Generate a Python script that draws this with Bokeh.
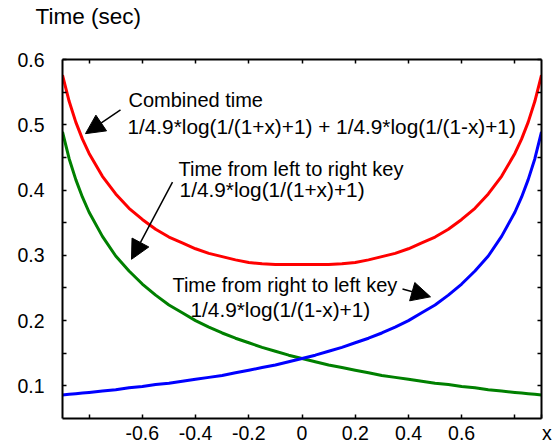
from bokeh.plotting import figure
from bokeh.models import Range1d, LinearAxis, FixedTicker, Label, Arrow, NormalHead
from bokeh.embed import file_html
from bokeh.resources import INLINE

# ---- data ----
x_vals = [-0.9, -0.875, -0.85, -0.825, -0.8, -0.75, -0.7, -0.65, -0.6, -0.55, -0.5,
          -0.45, -0.4, -0.35, -0.3, -0.25, -0.2, -0.15, -0.1, -0.05, 0.0,
          0.05, 0.1, 0.15, 0.2, 0.25, 0.3, 0.35, 0.4, 0.45, 0.5,
          0.55, 0.6, 0.65, 0.7, 0.75, 0.8, 0.825, 0.85, 0.875, 0.9]

left_to_right = [0.489, 0.448, 0.416, 0.389, 0.366, 0.329, 0.299, 0.276, 0.256, 0.239, 0.224,
                 0.212, 0.200, 0.190, 0.181, 0.173, 0.166, 0.159, 0.153, 0.147, 0.142,
                 0.137, 0.132, 0.128, 0.124, 0.120, 0.116, 0.113, 0.110, 0.107, 0.104,
                 0.102, 0.099, 0.097, 0.094, 0.092, 0.090, 0.089, 0.088, 0.087, 0.086]

right_to_left = [0.086, 0.087, 0.088, 0.089, 0.090, 0.092, 0.094, 0.097, 0.099, 0.102, 0.104,
                 0.107, 0.110, 0.113, 0.116, 0.120, 0.124, 0.128, 0.132, 0.137, 0.142,
                 0.147, 0.153, 0.159, 0.166, 0.173, 0.181, 0.190, 0.200, 0.212, 0.224,
                 0.239, 0.256, 0.276, 0.299, 0.329, 0.366, 0.389, 0.416, 0.448, 0.489]

combined = [0.576, 0.536, 0.504, 0.478, 0.456, 0.421, 0.394, 0.372, 0.355, 0.340, 0.328,
            0.319, 0.310, 0.303, 0.298, 0.293, 0.289, 0.287, 0.286, 0.286, 0.286,
            0.286, 0.286, 0.287, 0.289, 0.293, 0.298, 0.303, 0.310, 0.319, 0.328,
            0.340, 0.355, 0.372, 0.394, 0.421, 0.456, 0.478, 0.504, 0.536, 0.576]

x_ticks = [-0.8, -0.6, -0.4, -0.2, 0.0, 0.2, 0.4, 0.6, 0.8]
x_tick_labels = {-0.8: "", -0.6: "-0.6", -0.4: "-0.4", -0.2: "-0.2", 0.0: "0",
                 0.2: "0.2", 0.4: "0.4", 0.6: "0.6", 0.8: "", 0.9: "\u00a0\u00a0x"}
y_ticks = [0.1, 0.2, 0.3, 0.4, 0.5, 0.6]
y_minor_ticks = [0.15, 0.25, 0.35, 0.45, 0.55]

FONT = "Liberation Sans"

p = figure(width=553, height=446, output_backend="svg", toolbar_location=None,
           x_range=Range1d(-0.9, 0.9), y_range=Range1d(0.05, 0.6),
           min_border_left=62, min_border_right=12, min_border_top=57, min_border_bottom=26,
           x_axis_location=None, y_axis_location=None)
p.grid.grid_line_color = None
p.outline_line_color = None
p.background_fill_color = "white"
p.border_fill_color = "white"

p.title.text = "Time (sec)"
p.title.align = "left"
p.title.offset = -27
p.title.standoff = 3
p.title.text_font = FONT
p.title.text_font_size = "22.5px"
p.title.text_font_style = "normal"
p.title.text_color = "black"


def style_axis(ax, show_labels, standoff):
    ax.axis_line_color = "black"
    ax.axis_line_width = 2
    ax.major_tick_in = 4
    ax.major_tick_out = 0
    ax.minor_tick_in = 4
    ax.minor_tick_out = 0
    ax.major_tick_line_color = "black"
    ax.minor_tick_line_color = "black"
    ax.major_tick_line_width = 1.5
    ax.minor_tick_line_width = 1.5
    ax.major_label_text_font = FONT
    ax.major_label_text_color = "black"
    ax.major_label_standoff = standoff
    if show_labels:
        ax.major_label_text_font_size = "19.5px"
    else:
        ax.major_label_text_font_size = "0px"


ax_b = LinearAxis(ticker=FixedTicker(ticks=x_ticks + [0.9], minor_ticks=[]))
style_axis(ax_b, True, 3)
ax_b.major_label_overrides = x_tick_labels
p.add_layout(ax_b, "below")

# mirrored top axis; its blank axis label band lifts the title to its place
ax_t = LinearAxis(ticker=FixedTicker(ticks=x_ticks, minor_ticks=[]))
style_axis(ax_t, False, 0)
ax_t.axis_label = "\u00a0"
ax_t.axis_label_standoff = 0
ax_t.axis_label_text_font = FONT
ax_t.axis_label_text_font_size = "23px"
p.add_layout(ax_t, "above")

ax_l = LinearAxis(ticker=FixedTicker(ticks=y_ticks, minor_ticks=y_minor_ticks))
style_axis(ax_l, True, 18)
p.add_layout(ax_l, "left")

ax_r = LinearAxis(ticker=FixedTicker(ticks=y_ticks, minor_ticks=y_minor_ticks))
style_axis(ax_r, False, 0)
p.add_layout(ax_r, "right")

p.line(x_vals, combined, line_color="#ff0000", line_width=3)
p.line(x_vals, left_to_right, line_color="#008000", line_width=3)
p.line(x_vals, right_to_left, line_color="#0000ff", line_width=3)


def lab(x, y, text, size="20px"):
    p.add_layout(Label(x=x, y=y, text=text, text_font=FONT, text_font_size=size,
                       text_color="black", text_align="left", text_baseline="middle"))


lab(-0.652, 0.538, "Combined time")
lab(-0.656, 0.497, "1/4.9*log(1/(1+x)+1) + 1/4.9*log(1/(1-x)+1)", "20.8px")
lab(-0.464, 0.433, "Time from left to right key")
lab(-0.460, 0.4015, "1/4.9*log(1/(1+x)+1)", "20.8px")
lab(-0.487, 0.2545, "Time from right to left key")
lab(-0.419, 0.2167, "1/4.9*log(1/(1-x)+1)", "20.8px")

for xs, ys, xe, ye in [(-0.682, 0.5227, -0.8136, 0.4864),
                       (-0.4866, 0.4121, -0.6407, 0.2939),
                       (0.3777, 0.2485, 0.4829, 0.2364)]:
    p.add_layout(Arrow(x_start=xs, y_start=ys, x_end=xe, y_end=ye,
                       line_color="black", line_width=1.5,
                       end=NormalHead(size=19, fill_color="black", line_color="black")))

open("out.html", "w").write(file_html(p, INLINE))
